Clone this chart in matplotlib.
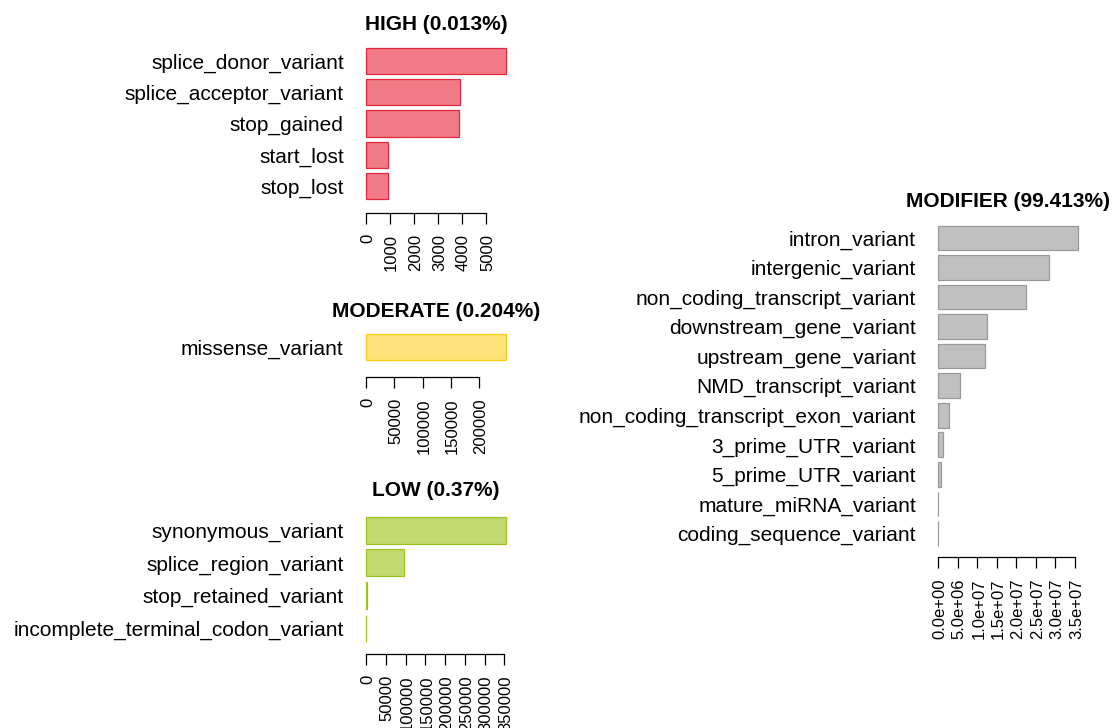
import matplotlib
matplotlib.use("Agg")
import matplotlib.pyplot as plt

plt.rcParams['font.family'] = ['Liberation Sans', 'DejaVu Sans']

# variant counts per impact class
high_labels = ["splice_donor_variant", "splice_acceptor_variant", "stop_gained",
               "start_lost", "stop_lost"]
high_counts = [5830, 3900, 3880, 920, 900]
high_ticks = [0, 1000, 2000, 3000, 4000, 5000]

moderate_labels = ["missense_variant"]
moderate_counts = [247400]
moderate_ticks = [0, 50000, 100000, 150000, 200000]

low_labels = ["synonymous_variant", "splice_region_variant", "stop_retained_variant",
              "incomplete_terminal_codon_variant"]
low_counts = [353800, 96900, 1500, 1200]
low_ticks = [0, 50000, 100000, 150000, 200000, 250000, 300000, 350000]

modifier_labels = ["intron_variant", "intergenic_variant", "non_coding_transcript_variant",
                   "downstream_gene_variant", "upstream_gene_variant", "NMD_transcript_variant",
                   "non_coding_transcript_exon_variant", "3_prime_UTR_variant",
                   "5_prime_UTR_variant", "mature_miRNA_variant", "coding_sequence_variant"]
modifier_counts = [35.8e6, 28.4e6, 22.5e6, 12.4e6, 11.9e6, 5.5e6, 2.7e6, 1.08e6,
                   0.57e6, 20000, 15000]
modifier_ticks = [0, 5e6, 1e7, 1.5e7, 2e7, 2.5e7, 3e7, 3.5e7]
modifier_tick_labels = ["0.0e+00", "5.0e+06", "1.0e+07", "1.5e+07",
                        "2.0e+07", "2.5e+07", "3.0e+07", "3.5e+07"]

W, H = 1112, 728
PLOT_W = 151  # plot region width in pixels


def draw_panel(fig, labels, counts, ticks, title, fill, edge,
               x0, bar_top, bar_bottom, axis_y, title_y, tick_labels=None):
    """Horizontal barplot in base-R style, placed by pixel layout."""
    n = len(counts)
    span = n * 1.2 - 0.2
    unit = (bar_bottom - bar_top) / span
    top = bar_top - 0.04 * span * unit
    ax = fig.add_axes([x0 / W, 1 - axis_y / H, PLOT_W / W, (axis_y - top) / H])

    vmax = max(counts)
    ax.set_xlim(-0.04 * vmax, 1.04 * vmax)
    ax.set_ylim(0.2 + (axis_y - bar_top) / unit, 0.2 - 0.04 * span)

    pos = [0.7 + 1.2 * i for i in range(n)]
    ax.barh(pos, counts, height=1.0, left=0, color=fill, edgecolor=edge, linewidth=0.9)

    for side in ["top", "right", "left"]:
        ax.spines[side].set_visible(False)
    ax.spines["bottom"].set_bounds(ticks[0], ticks[-1])
    ax.spines["bottom"].set_linewidth(0.9)

    ax.set_xticks(ticks)
    if tick_labels is None:
        tick_labels = [str(t) for t in ticks]
    ax.set_xticklabels(tick_labels, rotation=90, fontsize=12,
                       ha="right", va="center_baseline", rotation_mode="anchor")
    ax.tick_params(axis="x", direction="out", length=8, width=0.9, pad=7)

    ax.set_yticks(pos)
    ax.set_yticklabels(labels, fontsize=15)
    ax.tick_params(axis="y", length=0, pad=12)

    fig.text((x0 + PLOT_W / 2) / W, 1 - title_y / H, title, ha="center", va="center",
             fontsize=15, fontweight="bold")
    return ax


fig = plt.figure(figsize=(W / 100, H / 100), dpi=100)

draw_panel(fig, high_labels, high_counts, high_ticks, "HIGH (0.013%)",
           "#F07A86", "#E6283E", 360.4, 47.7, 199.3, 213.3, 24)
draw_panel(fig, moderate_labels, moderate_counts, moderate_ticks, "MODERATE (0.204%)",
           "#FFE27A", "#FFCC11", 360.4, 334.0, 360.3, 377.3, 311.7)
draw_panel(fig, low_labels, low_counts, low_ticks, "LOW (0.37%)",
           "#C2D870", "#9CC41E", 360.4, 516.7, 641.7, 654.3, 490.7)
draw_panel(fig, modifier_labels, modifier_counts, modifier_ticks, "MODIFIER (99.413%)",
           "#C0C0C0", "#999999", 932.7, 225.7, 545.7, 557.3, 201.7,
           tick_labels=modifier_tick_labels)

fig.savefig("out.png", dpi=100)
